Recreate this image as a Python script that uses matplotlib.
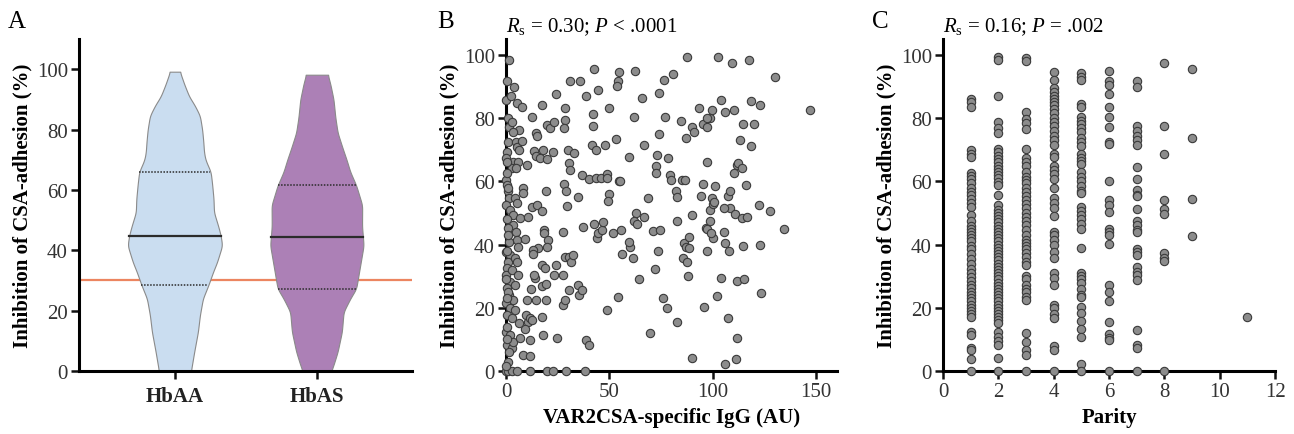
import matplotlib
matplotlib.use("Agg")
import matplotlib.pyplot as plt
import numpy as np

plt.rcParams['font.family'] = ['Liberation Serif', 'DejaVu Serif']
plt.rcParams['mathtext.fontset'] = 'custom'
plt.rcParams['mathtext.rm'] = 'Liberation Serif'
plt.rcParams['mathtext.it'] = 'Liberation Serif:italic'

# ---- panel A: violin outlines (level, half width) ----
groups = ['HbAA', 'HbAS']
aa_levels = [0, 6.4, 13, 18.5, 24, 28.4, 33, 36, 41.6, 45, 48, 52.6, 57, 62, 66, 70, 72.5, 76, 80, 84.6, 88, 91, 95, 99.2]
aa_half = [0.113, 0.136, 0.162, 0.176, 0.197, 0.235, 0.270, 0.296, 0.333, 0.322, 0.305, 0.275, 0.272, 0.262, 0.252, 0.215, 0.205, 0.200, 0.192, 0.176, 0.140, 0.100, 0.066, 0.035]
as_levels = [0, 2, 6.4, 13, 19.6, 24, 27.3, 35, 41.6, 48, 55, 61.5, 66, 70, 74, 79, 84, 90, 95, 98.2]
as_half = [0.101, 0.117, 0.146, 0.176, 0.188, 0.235, 0.277, 0.305, 0.329, 0.318, 0.319, 0.277, 0.235, 0.209, 0.180, 0.146, 0.130, 0.117, 0.095, 0.077]
aa_quart = [28.5, 44.8, 66.0]
as_quart = [27.3, 44.5, 61.8]
cutoff = 30

# ---- panel B: VAR2CSA IgG vs inhibition ----
b_igg = [1.6, 0.6, 0, 3.9, 2.3, 5.5, 7.6, 1.1, 1.6, 2.7, 6.5, 12.4, 14.5, 14.8, 17.3, 20, 21.3, 23.2, 24, 28.5,
         28.5, 28.1, 31, 35.8, 38.5, 42.6, 41.9, 41.9, 44.4, 49.7, 54.4, 53.9, 54.5, 62.4, 61.9, 65.6, 73.9, 76.6, 80.8, 76.9,
         84.5, 87.4, 87.1, 90, 91.1, 93.2, 95.2, 97.4, 98.4, 99.5, 102.6, 103.9, 106, 109.2, 110.3, 114.5, 117.3, 118.4, 120, 122.6,
         118.4, 113.2, 130.2, 146.8, 3.5,
         1.1, 4.8, 5.5, 7.6, 6.5, 0.6, 0, 3.5, 6, 2.7, 4.8, 10, 13.5, 14.5, 16.5, 18.1, 20, 22.9, 29.8, 32.9,
         30.6, 31, 36.8, 40.3, 43.4, 45.8, 48.7, 49.0, 41.5, 43.5, 47.9, 53.2, 54.8, 59.7, 66.5, 72.9, 72.6, 72.6, 74.2, 78.1,
         79.4, 79.7, 85, 86.6, 97.1, 97.1, 111.6, 112.4, 114, 110.3, 116.1,
         0, 0.6, 1.1, 1.6, 0, 1.9, 4.4, 5.5, 3.2, 6.8, 8.4, 8.1, 10.8, 3.5, 1.1, 4.8, 5.5, 1.6, 6, 9.2,
         12.4, 15.2, 17.3, 19.4, 18.5, 18.4, 20.5, 20, 15.6, 13.2, 13.2, 28.1, 29, 29.7, 27.7, 35, 37.1, 42.6, 43.9, 44.7,
         46.3, 47.1, 49.7, 49.5, 51.6, 55.2, 55.5, 56, 60, 59.7, 61.3, 62.9, 61.9, 63.5, 66.9, 68.7, 71, 74.5, 73.7, 82.6,
         82.3, 82.6, 86.1, 87.1, 88.4, 88.7, 90, 94.2, 95.2, 96.5, 97.1, 97.4, 98.4, 98.7, 99.5, 100, 100.3, 100.6, 99, 101.1,
         105.2, 106, 107.1, 107.6, 108.1, 105.2, 108.1, 110.8, 114, 114.8, 116.5, 122.1, 122.6, 127.7, 134.2,
         0, 1.9, 1.1, 4.4, 5.2, 0.6, 0, 2.7, 6, 1.9, 4.4, 0.6, 1.6, 3.5, 0, 1.9, 4.4, 0.6, 2.7, 0,
         1.9, 0.6, 2.7, 1.6, 3.5, 6.8, 9.7, 10.8, 9.2, 6.5, 8.1, 11.6, 11.6, 11.6, 12.4, 11.9, 10.3, 14.5, 14, 13.7,
         17.3, 17.8, 19.5, 17.3, 19, 17.3, 19.4, 23.2, 24.2, 24.5, 27.7, 27.4, 28.5, 28.5, 30.6, 31.3, 30.6, 32.3, 35, 35.5,
         36.6, 38.7, 40.3, 48.7, 54.4, 64.5, 72.1, 69.4, 76.1, 77.7, 82.9, 88.2, 85.5, 87.4, 90, 95.5, 101.9, 103.9, 107.1, 106,
         111.3, 111.6, 111.6, 115.2, 123.4,
         0, 1.1, 2.7, 5.2, 11.6, 20, 22.6, 29, 38.2,
         0.3, 0.8, 0.4, 1.0, 0.5, 0.2, 0.9, 0.4, 0.6, 0.3, 0.8, 0.2, 0.7]
b_inh = [98.4, 91.8, 85.8, 90, 87.1, 84.7, 83.6, 80, 77.3, 78.9, 76.3, 80.5, 75.2, 74.2, 84.2, 77.8, 76.8, 78.7, 87.6, 83.1,
         79.4, 76.8, 91.8, 91.8, 87, 95.5, 81.2, 77.5, 88.9, 83.3, 91.6, 90.3, 94.7, 95, 80.5, 86.5, 88.1, 92.1, 93.9, 80.2,
         79.1, 99.2, 73.8, 77.3, 75.5, 83.3, 78.1, 77.3, 80, 82.6, 99.4, 85.8, 81.9, 97.4, 82.6, 78.1, 98.4, 85.4, 78.1, 84,
         71.2, 73.1, 93.1, 82.6, 75.7,
         72.4, 72.6, 71, 72.8, 69.9, 69.4, 67.3, 66.2, 66.2, 64.1, 64.1, 65.2, 69.6, 68.1, 67.5, 69.9, 67.1, 69.2, 69.9, 69.1,
         65.7, 63.6, 62, 60.7, 61, 61, 62.2, 61.2, 71.5, 69.9, 71.5, 73.4, 60.1, 67.8, 71.5, 68.4, 64.7, 62.6, 74.9, 67.5,
         62, 60.4, 60.4, 60.4, 66.2, 80, 65.2, 65.7, 64.3, 62.6, 58.9,
         60.4, 58.9, 56.8, 54.6, 52.5, 50.9, 54.6, 53.1, 49.4, 48.3, 57.8, 56.2, 48.8, 46.2, 45.1, 44.1, 41.5, 40.9, 39.3, 41.8,
         52, 52.5, 50.6, 56.8, 44.6, 43.6, 41.5, 39.3, 38.8, 38.3, 36.9, 59.1, 57, 52.3, 44.1, 55.2, 45.7, 46.4, 42.2, 43.6,
         44.6, 47, 55.9, 53.8, 43.6, 60.1, 44.6, 36.9, 39.3, 40.7, 35.7, 49.9, 47.5, 46.4, 48.8, 54.6, 44.3, 44.6, 38, 47.5,
         57, 55.2, 40.4, 39.3, 38.8, 42.5, 49.2, 55.5, 59.1, 45.4, 44.9, 38, 50.9, 47.3, 54.6, 52.7, 42.2, 53.4, 43.6, 58.6,
         44.1, 40.4, 55.5, 38, 51.7, 51.5, 56.8, 49.6, 48.3, 39.7, 48.8, 52.5, 39.9, 50.6, 44.9,
         37.8, 36.7, 34.6, 35.7, 34.6, 32.5, 30.4, 32, 30.4, 28.3, 27.2, 26.2, 24.1, 22.5, 21.4, 19.8, 19.3, 17.7, 16.7, 12.4,
         11.4, 8.2, 7.2, 5.9, 9.3, 10.5, 17.7, 15.6, 13.3, 15.1, 5.1, 4.9, 9.8, 16.9, 16.1, 25.9, 22.5, 22.5, 29.3, 30.4,
         17.2, 11.4, 22.5, 33.5, 32.7, 27, 27.4, 30.4, 33.5, 10.3, 30.4, 20.9, 22.5, 36.2, 36.2, 34.6, 25.6, 36.7, 27.2, 24.1,
         25.6, 9.8, 8.2, 19.3, 23.5, 29.1, 32.3, 11.9, 23.2, 20, 15.4, 29.9, 35.7, 34.4, 4.2, 20.4, 23.8, 29.3, 16.9, 2.1,
         3.8, 10.5, 28.5, 29.1, 24.6,
         0, 0, 0, 0, 0, 0, 0, 0, 0,
         62.5, 58, 48, 43, 38, 29, 25, 23, 14, 10, 3, 1.5, 66]

# ---- panel C: parity vs inhibition ----
parity = [1, 2, 3, 4, 5, 6, 7, 8, 9, 11]
p1 = [86.2, 85.2, 83.6, 69.8, 68.8, 67.7, 62.8, 61.8, 60.6, 59.6, 57.8, 56.6, 55.6, 54.5, 53.2, 51.8, 49.5, 47.5,
      46.0, 45.0, 44.0, 43.0, 42.0, 41.0, 39.6, 38.5, 37.0, 35.3, 33.8, 32.4, 31.0, 29.8, 28.5, 27.3, 26.2, 25.0,
      24.0, 23.0, 22.0, 21.0, 20.0, 19.0, 18.0, 17.0, 12.4, 11.4, 7.4, 6.6, 3.8, 0]
p2 = [99.4, 98.4, 87.0, 78.8, 76.8, 75.3, 70.2, 69.2, 68.0, 67.0, 66.0, 65.0, 64.0, 63.0, 62.0, 61.0, 59.8, 58.8,
      55.6, 52.4, 51.0, 50.0, 49.0, 48.0, 47.0, 46.0, 45.0, 44.0, 43.0, 42.0, 41.0, 40.0, 39.0, 38.0, 37.0, 36.0,
      35.0, 34.0, 33.0, 32.0, 31.0, 30.0, 29.0, 28.0, 27.0, 26.0, 25.0, 24.0, 23.0, 22.0, 21.0, 20.0, 19.0, 18.0,
      17.0, 16.0, 15.2, 12.2, 10.8, 9.6, 8.3, 4.2, 0]
p3 = [98.9, 98.2, 81.9, 79.7, 78.6, 76.5, 70.2, 67.3, 66.0, 65.0, 63.0, 61.5, 60.5, 59.5, 58.0, 56.5, 55.3, 54.0,
      52.8, 51.5, 50.0, 48.8, 47.5, 46.2, 44.5, 43.0, 41.5, 40.5, 39.5, 38.5, 37.3, 36.0, 34.5, 33.5, 30.0, 29.0,
      27.3, 26.0, 25.0, 23.5, 22.5, 12.0, 9.2, 6.6, 5.0, 0]
p4 = [94.5, 92.2, 89.5, 88.2, 87.0, 86.0, 85.0, 84.0, 83.0, 81.5, 80.0, 78.8, 77.5, 76.0, 74.5, 73.0, 71.5, 68.7,
      67.6, 64.8, 63.5, 62.3, 60.8, 58.0, 54.8, 53.0, 51.5, 49.0, 44.0, 43.0, 41.5, 40.0, 37.8, 35.8, 31.0, 29.5,
      27.3, 21.0, 19.8, 18.0, 16.8, 8.0, 6.5, 0]
p5 = [94.2, 93.1, 92.0, 84.5, 83.4, 80.3, 79.0, 78.0, 77.0, 75.5, 73.8, 72.3, 71.3, 68.7, 67.5, 66.5, 65.5, 62.9,
      61.5, 60.0, 58.5, 57.0, 56.3, 51.8, 50.5, 49.3, 48.0, 46.5, 45.0, 38.9, 31.0, 30.0, 29.0, 27.8, 26.0, 24.0,
      23.3, 20.1, 18.2, 15.9, 13.3, 10.7, 2.2, 0]
p6 = [95.0, 91.9, 90.4, 87.7, 83.4, 80.3, 77.2, 72.4, 71.8, 60.0, 54.0, 52.6, 50.3, 45.0, 44.0, 43.0, 40.3, 27.2,
      25.0, 22.1, 15.4, 11.6, 10.6, 9.9, 0]
p7 = [91.9, 89.8, 77.5, 75.8, 74.5, 73.0, 71.4, 64.5, 60.8, 57.2, 55.8, 55.3, 51.4, 47.4, 46.1, 44.5, 44.0, 38.5,
      37.5, 36.8, 32.9, 31.2, 30.3, 28.7, 12.9, 8.2, 7.4, 0]
p8 = [97.4, 77.4, 68.5, 54.2, 51.4, 49.8, 37.2, 35.8, 34.7, 0]
p9 = [95.6, 73.8, 54.5, 42.6]
p11 = [17.2]
c_columns = [p1, p2, p3, p4, p5, p6, p7, p8, p9, p11]


def smooth_outline(levels, half, n=300, win=15):
    # resample the traced outline and soften the corners a little
    y = np.linspace(levels[0], levels[-1], n)
    w = np.interp(y, levels, half)
    k = np.hanning(win)
    k /= k.sum()
    pad = win // 2
    wp = np.pad(w, pad, mode='edge')
    return y, np.convolve(wp, k, mode='valid')


fig = plt.figure(figsize=(12.94, 4.35), dpi=100)
axA = fig.add_axes([0.061, 0.1448, 0.2574, 0.763])
axB = fig.add_axes([0.391, 0.1448, 0.2558, 0.763])
axC = fig.add_axes([0.7288, 0.1448, 0.2566, 0.763])

ylab = 'Inhibition of CSA-adhesion (%)'
for ax in (axA, axB, axC):
    ax.spines['top'].set_visible(False)
    ax.spines['right'].set_visible(False)
    ax.spines['left'].set_linewidth(2.2)
    ax.spines['bottom'].set_linewidth(2.2)
    ax.tick_params(direction='out', length=6, width=1.8, labelsize=15, pad=2,
                   colors='#111111', labelcolor='#333333')
    ax.set_ylabel(ylab, fontsize=15, fontweight='bold', labelpad=3)

# panel A
axA.axhline(cutoff, color='#EC8560', lw=1.6, zorder=1)
fills = ['#CADDF0', '#AC80B6']
for i, (lev, hw, q) in enumerate([(aa_levels, aa_half, aa_quart), (as_levels, as_half, as_quart)]):
    ys, ws = smooth_outline(lev, hw)
    axA.fill_betweenx(ys, i - ws, i + ws, facecolor=fills[i], edgecolor='#8a8a8a', lw=0.8, zorder=2)
    for j, qv in enumerate(q):
        w = np.interp(qv, ys, ws)
        axA.plot([i - w, i + w], [qv, qv], color='#2b2b2b',
                 lw=1.6 if j == 1 else 1.1, ls='-' if j == 1 else (0, (1, 1)), zorder=3)
axA.set_xlim(-0.676, 1.67)
axA.set_ylim(0, 110)
axA.set_yticks([0, 20, 40, 60, 80, 100])
axA.set_xticks([0, 1])
axA.set_xticklabels(groups, fontweight='bold')
axA.tick_params(axis='x', labelsize=15, pad=5, labelcolor='#222222')

# panel B
axB.scatter(b_igg, b_inh, s=36, facecolor='#8c8c8c', edgecolor='#3a3a3a', lw=0.8, clip_on=False, zorder=3)
axB.set_xlim(0, 160)
axB.set_ylim(0, 105)
axB.set_xticks([0, 50, 100, 150])
axB.set_yticks([0, 20, 40, 60, 80, 100])
axB.set_xlabel('VAR2CSA-specific IgG (AU)', fontsize=15, fontweight='bold', labelpad=4)

# panel C
for px, vals in zip(parity, c_columns):
    axC.scatter([px] * len(vals), vals, s=36, facecolor='#8c8c8c', edgecolor='#3a3a3a', lw=0.8,
                clip_on=False, zorder=3)
axC.set_xlim(0, 12)
axC.set_ylim(0, 105)
axC.set_xticks(range(0, 13, 2))
axC.set_yticks([0, 20, 40, 60, 80, 100])
axC.set_xlabel('Parity', fontsize=15, fontweight='bold', labelpad=4)

# panel letters and stats
fig.text(0.006, 0.935, 'A', fontsize=18)
fig.text(0.338, 0.935, 'B', fontsize=18)
fig.text(0.674, 0.935, 'C', fontsize=18)
fig.text(0.391, 0.925, r'$R_{\mathrm{s}}$ = 0.30; $P$ < .0001', fontsize=15)
fig.text(0.7288, 0.925, r'$R_{\mathrm{s}}$ = 0.16; $P$ = .002', fontsize=15)

fig.savefig('out.png', dpi=100)
